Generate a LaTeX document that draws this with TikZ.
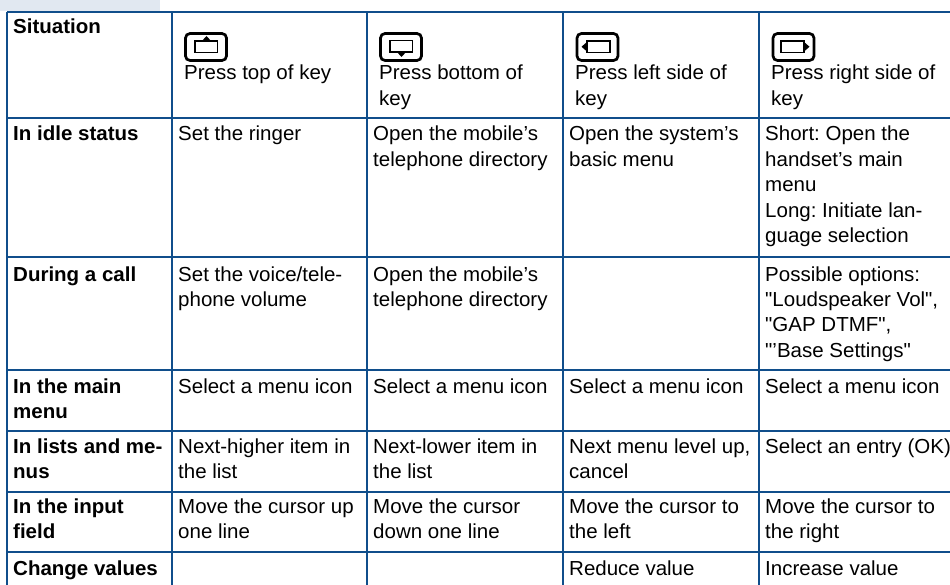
\documentclass[tikz,border=0pt]{standalone}
\usepackage{fontspec}
\setmainfont{Liberation Sans}[FakeStretch=1.01, Ligatures=TeXOff]
\usepackage{tikz}

\definecolor{gridblue}{RGB}{16,78,139}
\definecolor{tabblue}{RGB}{225,232,241}
\newcommand{\lines}[1]{\begin{tabular}[t]{@{}l@{}}#1\end{tabular}}
\frenchspacing
\tikzset{
	rule/.style={draw=gridblue, line width=1.1pt},
	cell/.style={anchor=base west, inner sep=0pt, font=\fontsize{20.3}{25.5}\selectfont},
	headcell/.style={cell, font=\fontsize{20.3}{25.5}\selectfont\bfseries},
	keybox/.style={line width=2.7pt, rounded corners=4.5pt},
	keyin/.style={line width=1.6pt},
}

\begin{document}
\begin{tikzpicture}[x=1pt,y=-1pt]
		\useasboundingbox (0,0) rectangle (950,585);
		\fill[tabblue] (0,0) rectangle (160,11);
		\draw[rule] (7,12) -- (950,12);
		\draw[rule] (7,118) -- (950,118);
		\draw[rule] (7,257) -- (950,257);
		\draw[rule] (7,370) -- (950,370);
		\draw[rule] (7,431) -- (950,431);
		\draw[rule] (7,492) -- (950,492);
		\draw[rule] (7,552) -- (950,552);
		\draw[rule] (7,12) -- (7,585);
		\draw[rule] (172,12) -- (172,585);
		\draw[rule] (367,12) -- (367,585);
		\draw[rule] (563,12) -- (563,585);
		\draw[rule] (759,12) -- (759,585);

		\begin{scope}[shift={(185.5,33.5)}]
			\draw[keybox] (0,0) rectangle (41,27);
			\draw[keyin] (9.5,7.5) rectangle (32,19);
			\fill (16,8) -- (21,2.5) -- (26,8) -- cycle;
		\end{scope}
		\begin{scope}[shift={(380.5,33.5)}]
			\draw[keybox] (0,0) rectangle (41,27);
			\draw[keyin] (9.5,7) rectangle (32,18.5);
			\fill (16,18) -- (21,23.5) -- (26,18) -- cycle;
		\end{scope}
		\begin{scope}[shift={(577,33.5)}]
			\draw[keybox] (0,0) rectangle (41,27);
			\draw[keyin] (10,7.5) rectangle (33,19);
			\fill (10.5,8) -- (4.5,13.25) -- (10.5,18.5) -- cycle;
		\end{scope}
		\begin{scope}[shift={(773,33.5)}]
			\draw[keybox] (0,0) rectangle (41,27);
			\draw[keyin] (8,7.5) rectangle (31,19);
			\fill (30.5,8) -- (36.5,13.25) -- (30.5,18.5) -- cycle;
		\end{scope}

		\node[headcell] (sit) at (13,34) {Situation};
		\node[cell] (ptop) at (184,80) {Press top of key};
		\node[cell] (pbot) at (379,80) {\lines{Press bottom of\\key}};
		\node[cell] (pleft) at (575,80) {\lines{Press left side of\\key}};
		\node[cell] (pright) at (771,80) {\lines{Press right side of\\key}};

		\node[headcell] (idle) at (13,141) {In idle status};
		\node[cell] (idleA) at (178,141) {Set the ringer};
		\node[cell] (idleB) at (373,141) {\lines{Open the mobile’s\\telephone directory}};
		\node[cell] (idleC) at (569,141) {\lines{Open the system’s\\basic menu}};
		\node[cell] (idleD) at (765,141) {\lines{Short: Open the\\handset’s main\\menu\\Long: Initiate lan-\\guage selection}};

		\node[headcell] (call) at (13,281) {During a call};
		\node[cell] (callA) at (178,281) {\lines{Set the voice/tele-\\phone volume}};
		\node[cell] (callB) at (373,281) {\lines{Open the mobile’s\\telephone directory}};
		\node[cell] (callD) at (765,281) {\lines{Possible options:\\"Loudspeaker Vol",\\"GAP DTMF",\\"’Base Settings"}};

		\node[headcell] (mmenu) at (13,393) {\lines{In the main\\menu}};
		\node[cell] (mmenuA) at (178,393) {Select a menu icon};
		\node[cell] (mmenuB) at (373,393) {Select a menu icon};
		\node[cell] (mmenuC) at (569,393) {Select a menu icon};
		\node[cell] (mmenuD) at (765,393) {Select a menu icon};

		\node[headcell] (lists) at (13,453) {\lines{In lists and me-\\nus}};
		\node[cell] (listsA) at (178,453) {\lines{Next-higher item in\\the list}};
		\node[cell] (listsB) at (373,453) {\lines{Next-lower item in\\the list}};
		\node[cell] (listsC) at (569,453) {\lines{Next menu level up,\\cancel}};
		\node[cell] (listsD) at (765,453) {Select an entry (OK)};

		\node[headcell] (input) at (13,513) {\lines{In the input\\field}};
		\node[cell] (inputA) at (178,513) {\lines{Move the cursor up\\one line}};
		\node[cell] (inputB) at (373,513) {\lines{Move the cursor\\down one line}};
		\node[cell] (inputC) at (569,513) {\lines{Move the cursor to\\the left}};
		\node[cell] (inputD) at (765,513) {\lines{Move the cursor to\\the right}};

		\node[headcell] (change) at (13,575) {Change values};
		\node[cell] (changeC) at (569,575) {Reduce value};
		\node[cell] (changeD) at (765,575) {Increase value};
\end{tikzpicture}
\end{document}
